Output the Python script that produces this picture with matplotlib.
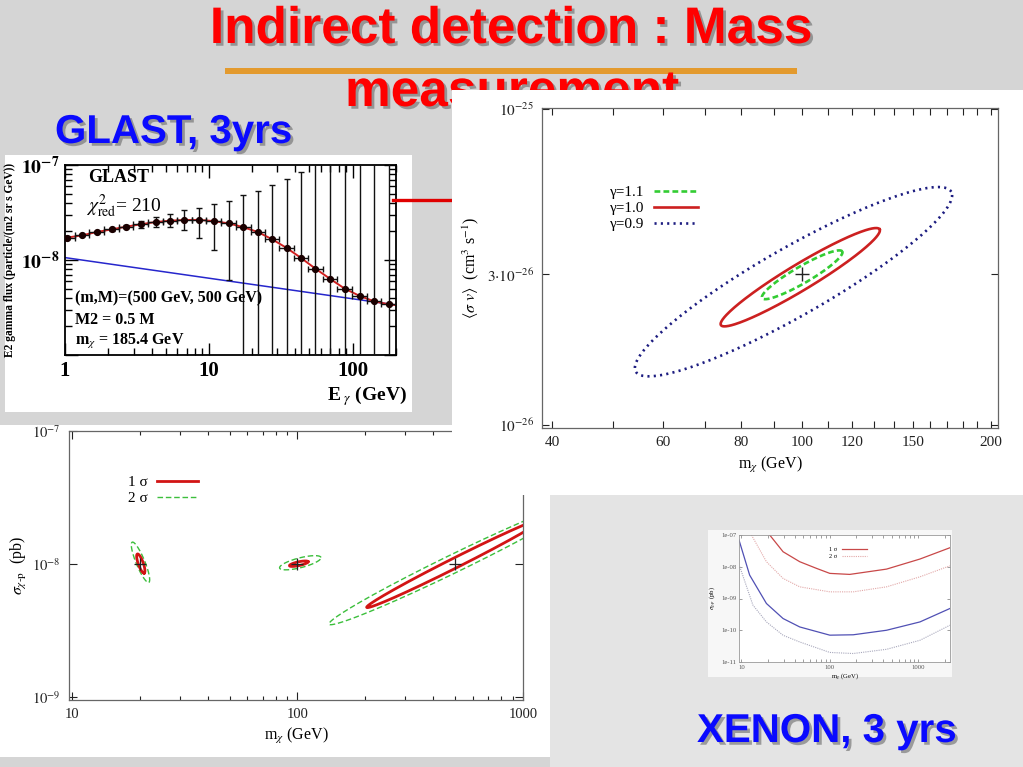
import numpy as np
import matplotlib.pyplot as plt
import matplotlib.patheffects as pe
from matplotlib.lines import Line2D
from matplotlib.patches import Rectangle
from matplotlib.ticker import FixedLocator, NullLocator, NullFormatter, LogLocator

plt.rcParams['font.family'] = ['Liberation Serif', 'DejaVu Serif']
plt.rcParams['mathtext.fontset'] = 'stix'

W, H = 1023, 767

# ---- GLAST spectrum (E^2 gamma flux) ----
glast_E = np.array([1.03, 1.32, 1.66, 2.11, 2.65, 3.37, 4.27, 5.36, 6.73, 8.57, 10.8, 13.7,
                    17.3, 21.9, 27.4, 34.7, 43.4, 55.1, 70.0, 87.9, 112, 141, 178])
glast_flux = np.array([1.72, 1.82, 1.97, 2.10, 2.24, 2.38, 2.51, 2.59, 2.64, 2.64, 2.57, 2.43,
                       2.22, 1.97, 1.66, 1.34, 1.06, 0.81, 0.63, 0.50, 0.418, 0.367, 0.342]) * 1e-8
glast_up = np.array([1.77, 1.87, 2.03, 2.17, 2.33, 2.58, 2.82, 3.02, 3.36, 3.56, 3.86, 4.2,
                     4.8, 5.36, 6.2, 7.2, 8.5, 15, 15, 15, 15, 15, 15]) * 1e-8
glast_dn = np.array([1.67, 1.77, 1.91, 2.03, 2.15, 2.19, 2.24, 2.22, 2.07, 1.70, 1.27, 0.61,
                     0.01, 0.01, 0.01, 0.01, 0.01, 0.01, 0.01, 0.01, 0.01, 0.01, 0.01]) * 1e-8
glast_edges = np.array([0.91, 1.17, 1.48, 1.87, 2.37, 2.99, 3.79, 4.78, 6.0, 7.6, 9.6, 12.2,
                        15.4, 19.5, 24.5, 30.8, 38.8, 48.9, 62.1, 78.4, 99.2, 125, 158, 200])
glast_fit_E = np.r_[1.0, glast_E, 200.0]
glast_fit_flux = np.r_[1.70e-8, glast_flux, 3.35e-9]
glast_bg_E = [1.0, 200.0]
glast_bg_flux = [1.06e-8, 3.36e-9]

# ---- <sigma v> vs m_chi contours for three halo slopes ----
gamma_labels = ['γ=1.1', 'γ=1.0', 'γ=0.9']
gamma_tip_lo = [(86.3, 2.52e-26), (74.2, 2.07e-26), (54.3, 1.475e-26)]
gamma_tip_hi = [(115.8, 3.54e-26), (132.8, 4.16e-26), (172.7, 5.47e-26)]
gamma_width = [0.18, 0.14, 0.187]
gamma_best = (100, 3e-26)

# ---- sigma_chi-p vs m_chi contours ----
sigma_labels = ['1 σ', '2 σ']
one_sig_lo = [(19.5, 1.19e-8), (92.1, 0.971e-8), (202.7, 0.472e-8)]
one_sig_hi = [(20.9, 0.855e-8), (111.4, 1.041e-8), (1233, 2.2e-8)]
one_sig_w = [0.25, 0.2, 0.05]
two_sig_lo = [(18.5, 1.46e-8), (83.3, 0.933e-8), (138, 0.353e-8)]
two_sig_hi = [(21.9, 0.727e-8), (127.1, 1.12e-8), (1811, 2.95e-8)]
two_sig_w = [0.2, 0.23, 0.065]
bl_best_m = [20, 100, 500]
bl_best_s = [1e-8, 1e-8, 1e-8]

# ---- XENON sensitivity curves ----
xe_red1_m = [20.9, 29.6, 45.7, 70.6, 100, 168, 438, 1045, 2280]
xe_red1_s = [1e-7, 2.97e-8, 1.44e-8, 8.9e-9, 6.18e-9, 5.74e-9, 8.43e-9, 1.75e-8, 3.97e-8]
xe_red2_m = [13.0, 19.2, 29.6, 45.7, 100, 184, 438, 1045, 2280]
xe_red2_s = [1e-7, 1.44e-8, 4.3e-9, 2.33e-9, 1.62e-9, 1.62e-9, 2.33e-9, 4.82e-9, 1.07e-8]
xe_blue1_m = [9.4, 12.4, 19.2, 29.6, 45.7, 100, 184, 438, 1045, 2280]
xe_blue1_s = [6.95e-8, 5.46e-9, 6.96e-10, 2.34e-10, 1.27e-10, 7e-11, 7.2e-11, 1e-10, 1.83e-10, 4.84e-10]
xe_blue2_m = [9.6, 13.5, 19.2, 29.6, 45.7, 100, 184, 438, 1045, 2280]
xe_blue2_s = [1e-8, 6.2e-10, 1.83e-10, 6.95e-11, 4.27e-11, 2e-11, 1.85e-11, 2.51e-11, 4.83e-11, 1.44e-10]


fig = plt.figure(figsize=(W / 100, H / 100), dpi=100, facecolor='#d5d5d5')


def px_axes(x0, y0, x1, y1):
    return fig.add_axes([x0 / W, 1 - y1 / H, (x1 - x0) / W, (y1 - y0) / H])


def ptext(x, y, s, **kw):
    return fig.text(x / W, 1 - y / H, s, **kw)


def contour(ax, tip_a, tip_b, ratio, **kw):
    # ellipse built in screen space between the two tips of the major axis
    pa, pb = ax.transData.transform([tip_a, tip_b])
    c = (pa + pb) / 2
    u = (pb - pa) / 2
    v = np.array([-u[1], u[0]]) * ratio
    t = np.linspace(0, 2 * np.pi, 241)
    pts = c + np.outer(np.cos(t), u) + np.outer(np.sin(t), v)
    xy = ax.transData.inverted().transform(pts)
    return ax.plot(xy[:, 0], xy[:, 1], **kw)


# background slide
bg = px_axes(0, 0, W, H)
bg.set_xlim(0, W)
bg.set_ylim(H, 0)
bg.axis('off')
bg.set_zorder(0)
bg.add_patch(Rectangle((550, 495), 473, 272, color='#e4e4e4', lw=0))
bg.add_patch(Rectangle((5, 155), 407, 257, color='white', lw=0))
bg.add_patch(Rectangle((0, 425), 550, 332, color='white', lw=0))
bg.add_patch(Rectangle((708, 530), 244, 147, color='#f7f7f7', lw=0))
bg.add_patch(Rectangle((225, 68), 572, 6, color='#e39a2e', lw=0))

shadow = [pe.withSimplePatchShadow(offset=(2, -2), shadow_rgbFace='#6a6a6a', alpha=0.6)]
ptext(511, 43, 'Indirect detection : Mass', ha='center', va='baseline', fontsize=37,
      fontweight='bold', family='Liberation Sans', color='#ff0000', path_effects=shadow)
ptext(512, 106, 'measurement', ha='center', va='baseline', fontsize=37,
      fontweight='bold', family='Liberation Sans', color='#ff0000', path_effects=shadow)
ptext(55, 143, 'GLAST, 3yrs', ha='left', va='baseline', fontsize=29,
      fontweight='bold', family='Liberation Sans', color='#0a0aff', path_effects=shadow)
ptext(697, 742, 'XENON, 3 yrs', ha='left', va='baseline', fontsize=29,
      fontweight='bold', family='Liberation Sans', color='#0a0aff', path_effects=shadow)

# ---- GLAST panel ----
ax1 = px_axes(65, 165, 396, 355)
ax1.set_zorder(1)
ax1.set_xscale('log')
ax1.set_yscale('log')
ax1.set_xlim(1, 200)
ax1.set_ylim(1e-9, 1e-7)
ax1.plot(glast_bg_E, glast_bg_flux, color='#2626cc', lw=1.1, zorder=2)
ax1.plot(glast_fit_E, glast_fit_flux, color='#d02020', lw=1.4, zorder=2.5)
ax1.errorbar(glast_E, glast_flux,
             yerr=[glast_flux - glast_dn, glast_up - glast_flux],
             xerr=[glast_E - glast_edges[:-1], glast_edges[1:] - glast_E],
             fmt='o', ms=4.2, color='#1a0000', ecolor='#111111', elinewidth=1,
             capsize=2.5, capthick=1, zorder=3)
ax1.xaxis.set_major_locator(FixedLocator([1, 10, 100]))
ax1.set_xticklabels(['1', '10', '100'], fontsize=15, fontweight='bold')
ax1.xaxis.set_minor_locator(LogLocator(base=10, subs=np.arange(2, 10)))
ax1.xaxis.set_minor_formatter(NullFormatter())
ax1.yaxis.set_major_locator(FixedLocator([1e-9, 1e-8, 1e-7]))
ax1.set_yticklabels(['', r'$\mathbf{10^{-8}}$', r'$\mathbf{10^{-7}}$'], fontsize=14)
ax1.yaxis.set_minor_locator(LogLocator(base=10, subs=np.arange(2, 10)))
ax1.yaxis.set_minor_formatter(NullFormatter())
ax1.tick_params(which='both', direction='in', top=True, right=True, width=1)
ax1.tick_params(which='major', length=9, pad=4)
ax1.tick_params(which='minor', length=5)
for s in ax1.spines.values():
    s.set_linewidth(1.3)

ptext(88, 182, 'GLAST', fontsize=13, fontweight='bold', va='baseline')
ptext(86, 212, r'$\chi^2_{\rm red}$= 210', fontsize=14, va='baseline')
ptext(75, 302, '(m,M)=(500 GeV, 500 GeV)', fontsize=11.5, fontweight='bold', va='baseline')
ptext(75, 324, 'M2 = 0.5 M', fontsize=11.5, fontweight='bold', va='baseline')
ptext(75, 345, r'm$_{\chi}$ = 185.4 GeV', fontsize=11.5, fontweight='bold', va='baseline')
ptext(407, 400, r'E$_{\ \gamma}$ (GeV)', fontsize=14, fontweight='bold', va='baseline', ha='right')
ptext(10, 260, 'E2 gamma flux (particle/(m2 sr s GeV))', fontsize=8.3, fontweight='bold',
      rotation=90, ha='center', va='center')

# connector to the upper right panel
fig.add_artist(Line2D([393 / W, 462 / W], [1 - 200 / H, 1 - 200 / H],
                      color='#e00000', lw=2.4, zorder=4))

# ---- bottom left panel: sigma_chi-p ----
ax3 = px_axes(69, 431, 523, 700)
ax3.set_zorder(2)
ax3.set_xscale('log')
ax3.set_yscale('log')
ax3.set_xlim(9.7, 1000)
ax3.set_ylim(0.95e-9, 1e-7)
for i in range(3):
    contour(ax3, two_sig_lo[i], two_sig_hi[i], two_sig_w[i], color='#3cbf3c', lw=1,
            ls=(0, (4, 2)), label=sigma_labels[1] if i == 0 else None)
    contour(ax3, one_sig_lo[i], one_sig_hi[i], one_sig_w[i], color='#d21414', lw=2,
            label=sigma_labels[0] if i == 0 else None)
ax3.plot(bl_best_m, bl_best_s, '+', color='#222222', ms=8, mew=0.9)
h, l = ax3.get_legend_handles_labels()
ax3.legend(h[::-1], l[::-1], loc='upper left', bbox_to_anchor=(0.10, 0.885), frameon=False,
           markerfirst=False, fontsize=11, handlelength=2.7, labelspacing=0.15,
           handletextpad=0.6)
ax3.xaxis.set_major_locator(FixedLocator([10, 100, 1000]))
ax3.set_xticklabels(['10', '100', '1000'], fontsize=10.5)
ax3.xaxis.set_minor_locator(LogLocator(base=10, subs=np.arange(2, 10)))
ax3.xaxis.set_minor_formatter(NullFormatter())
ax3.yaxis.set_major_locator(FixedLocator([1e-9, 1e-8, 1e-7]))
ax3.set_yticklabels([r'$10^{-9}$', r'$10^{-8}$', r'$10^{-7}$'], fontsize=10.5)
ax3.yaxis.set_minor_locator(NullLocator())
ax3.tick_params(which='both', direction='in', top=True, right=True, width=0.8, colors='#222222')
ax3.tick_params(which='major', length=6, pad=6)
ax3.tick_params(which='minor', length=3)
for s in ax3.spines.values():
    s.set_linewidth(0.9)
    s.set_color('#666666')
ax3.set_xlabel(r'm$_\chi$ (GeV)', fontsize=11.5, labelpad=3)
ax3.set_ylabel(r'$\sigma_{\chi\mathrm{\text{-}p}}$  (pb)', fontsize=11.5, labelpad=2)

# ---- XENON panel ----
ax4 = px_axes(739, 535, 950, 662)
ax4.set_zorder(2)
ax4.set_xscale('log')
ax4.set_yscale('log')
ax4.set_xlim(9.4, 2285)
ax4.set_ylim(1e-11, 1e-7)
ax4.plot(xe_red1_m, xe_red1_s, color='#c84848', lw=0.9, label='1 σ')
ax4.plot(xe_red2_m, xe_red2_s, color='#e2a8a8', lw=0.8, ls=(0, (1, 1)), label='2 σ')
ax4.plot(xe_blue1_m, xe_blue1_s, color='#5050b4', lw=0.9)
ax4.plot(xe_blue2_m, xe_blue2_s, color='#a8a8bc', lw=0.8, ls=(0, (1, 1)))
ax4.legend(loc='upper left', bbox_to_anchor=(0.4, 0.95), frameon=False, markerfirst=False,
           fontsize=4.5, handlelength=4, labelspacing=0.2, handletextpad=0.8)
ax4.xaxis.set_major_locator(FixedLocator([10, 100, 1000]))
ax4.set_xticklabels(['10', '100', '1000'], fontsize=4.8)
ax4.xaxis.set_minor_locator(LogLocator(base=10, subs=np.arange(2, 10)))
ax4.xaxis.set_minor_formatter(NullFormatter())
ax4.yaxis.set_major_locator(FixedLocator([1e-11, 1e-10, 1e-9, 1e-8, 1e-7]))
ax4.set_yticklabels(['1e-11', '1e-10', '1e-09', '1e-08', '1e-07'], fontsize=4.8)
ax4.yaxis.set_minor_locator(NullLocator())
ax4.tick_params(which='both', direction='in', top=True, right=True, width=0.4,
                length=2, pad=2, colors='#555555')
for s in ax4.spines.values():
    s.set_linewidth(0.6)
    s.set_color('#999999')
ax4.set_xlabel(r'm$_\chi$ (GeV)', fontsize=4.8, labelpad=1)
ax4.set_ylabel(r'$\sigma_{\chi\text{-}p}$ (pb)', fontsize=4.8, labelpad=2)

# ---- upper right panel: <sigma v> ----
panel = px_axes(452, 90, 1023, 495)
panel.set_zorder(5)
panel.axis('off')
panel.add_patch(Rectangle((0, 0), 1, 1, transform=panel.transAxes, color='white', lw=0))

ax2 = px_axes(542, 108, 998, 428)
ax2.set_zorder(6)
ax2.set_xscale('log')
ax2.set_yscale('log')
ax2.set_xlim(38.5, 205)
ax2.set_ylim(0.978e-26, 1.007e-25)
styles = [dict(color='#33cc33', lw=1.9, ls=(0, (2.2, 1.2))),
          dict(color='#cc2020', lw=1.9),
          dict(color='#1c1c80', lw=1.9, ls=(0, (0.8, 1.6)))]
for i in range(3):
    contour(ax2, gamma_tip_lo[i], gamma_tip_hi[i], gamma_width[i], label=gamma_labels[i],
            **styles[i])
ax2.plot([gamma_best[0]], [gamma_best[1]], '+', color='#222222', ms=10, mew=1)
ax2.legend(loc='upper left', bbox_to_anchor=(0.12, 0.8), frameon=False, markerfirst=False,
           fontsize=11, handlelength=2.9, labelspacing=0.15, handletextpad=0.6)
ax2.xaxis.set_major_locator(FixedLocator([40, 50, 60, 70, 80, 90, 100, 110, 120, 130, 140,
                                          150, 160, 170, 180, 190, 200]))
ax2.set_xticklabels(['40', '', '60', '', '80', '', '100', '', '120', '', '', '150', '',
                     '', '', '', '200'], fontsize=11)
ax2.xaxis.set_minor_locator(NullLocator())
ax2.yaxis.set_major_locator(FixedLocator([1e-26, 3e-26, 1e-25]))
ax2.set_yticklabels([r'$10^{-26}$', r'$3{\cdot}10^{-26}$', r'$10^{-25}$'], fontsize=11)
ax2.yaxis.set_minor_locator(NullLocator())
ax2.tick_params(which='both', direction='in', top=True, right=True, width=0.8,
                length=5, pad=6, colors='#222222')
for s in ax2.spines.values():
    s.set_linewidth(0.9)
    s.set_color('#666666')
ax2.set_xlabel(r'm$_\chi$ (GeV)', fontsize=11.5, labelpad=4)
ax2.set_ylabel(r'$\langle\sigma\ v\rangle$  (cm$^3$ s$^{-1}$)', fontsize=11.5, labelpad=4)

fig.savefig('out.png', dpi=100, facecolor=fig.get_facecolor())
